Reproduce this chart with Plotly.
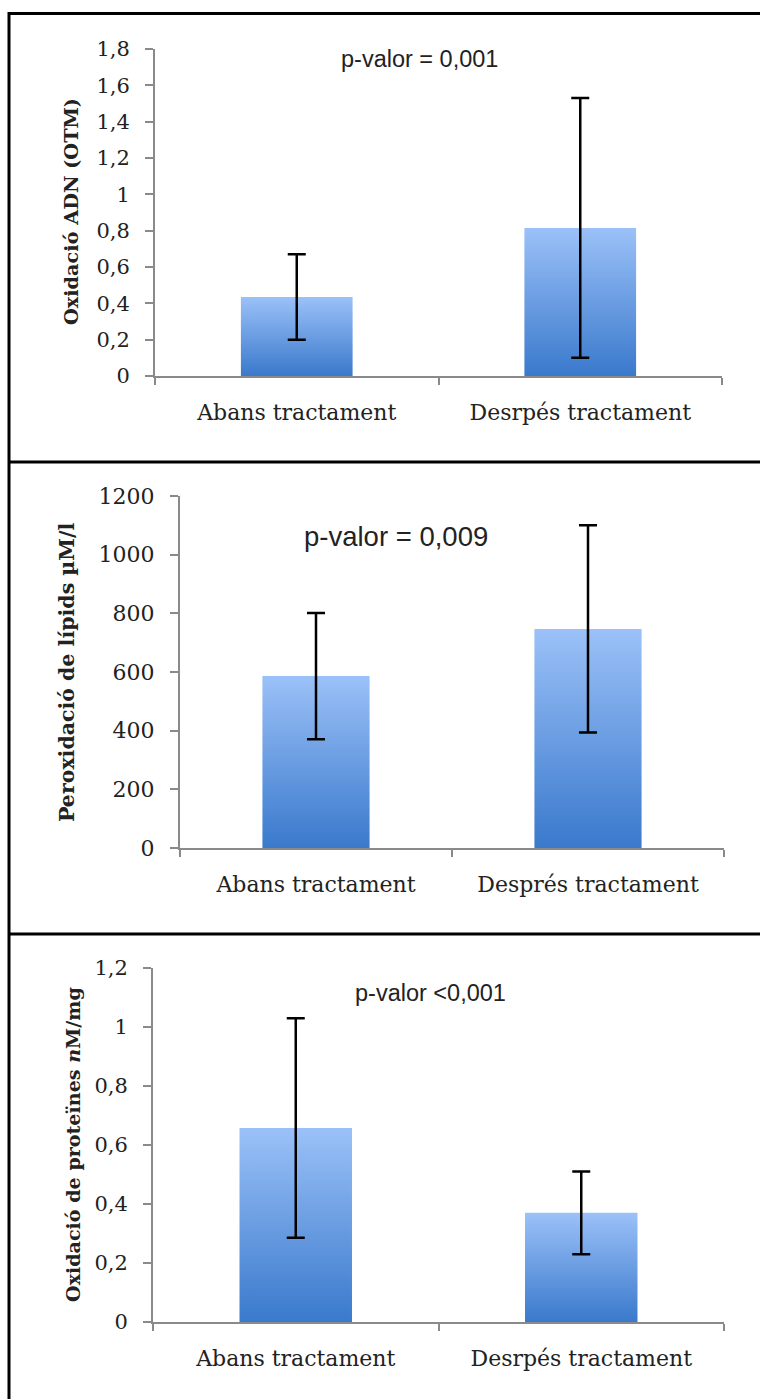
import plotly.graph_objects as go

W, H = 760, 1399

# ---- data -------------------------------------------------------------
cats_adn = ["Abans tractament", "Desrpés tractament"]
cats_lip = ["Abans tractament", "Després tractament"]
cats_prot = ["Abans tractament", "Desrpés tractament"]

adn_mean = [0.435, 0.815]
adn_err = [0.235, 0.715]

lip_mean = [586, 747]
lip_err = [215, 353]

prot_mean = [0.658, 0.37]
prot_err = [0.372, 0.14]

adn_ticks = [0, 0.2, 0.4, 0.6, 0.8, 1.0, 1.2, 1.4, 1.6, 1.8]
adn_ticktext = ["0", "0,2", "0,4", "0,6", "0,8", "1", "1,2", "1,4", "1,6", "1,8"]
lip_ticks = [0, 200, 400, 600, 800, 1000, 1200]
lip_ticktext = ["0", "200", "400", "600", "800", "1000", "1200"]
prot_ticks = [0, 0.2, 0.4, 0.6, 0.8, 1.0, 1.2]
prot_ticktext = ["0", "0,2", "0,4", "0,6", "0,8", "1", "1,2"]

p_texts = ["p-valor = 0,001", "p-valor = 0,009", "p-valor <0,001"]
y_titles = ["Oxidació ADN (OTM)", "Peroxidació de lípids µM/l",
            "Oxidació de proteïnes <i>n</i>M/mg"]

# ---- layout geometry (pixels) -------------------------------------------
panels = [
    dict(cats=cats_adn, mean=adn_mean, err=adn_err, ticks=adn_ticks, ticktext=adn_ticktext,
         ymax=1.8, x0=155, x1=722, ytop=49, ybot=376, p=p_texts[0], px=419, py=59,
         psize=23.5, title=y_titles[0], tx=71, ty=212, tsize=19.3, tfs=21, cfs=22),
    dict(cats=cats_lip, mean=lip_mean, err=lip_err, ticks=lip_ticks, ticktext=lip_ticktext,
         ymax=1200, x0=180, x1=724, ytop=496, ybot=848, p=p_texts[1], px=396, py=536,
         psize=27.5, title=y_titles[1], tx=67, ty=673, tsize=20.5, tfs=22, cfs=22),
    dict(cats=cats_prot, mean=prot_mean, err=prot_err, ticks=prot_ticks, ticktext=prot_ticktext,
         ymax=1.2, x0=153, x1=724, ytop=968, ybot=1322, p=p_texts[2], px=430, py=993,
         psize=23.5, title=y_titles[2], tx=73, ty=1145, tsize=19.1, tfs=21, cfs=22),
]

AXIS_GREY = "#8a8a8a"
TEXT = "#222222"
SERIF = "DejaVu Serif"
BAR_DARK = "#3a79cc"
BAR_LIGHT = "#9bc1f8"
HALF_W = 0.197


def px_x(v):
    return v / W


def px_y(v):
    return 1 - v / H


fig = go.Figure()
layout = dict(
    width=W, height=H,
    margin=dict(l=0, r=0, t=0, b=0, pad=0, autoexpand=False),
    paper_bgcolor="white", plot_bgcolor="white", showlegend=False,
)
annotations = []

for i, p in enumerate(panels, start=1):
    sfx = "" if i == 1 else str(i)
    xref, yref = "x" + sfx, "y" + sfx
    centers = [0.5, 1.5]

    # gradient-filled bars, one polygon per category
    for c, v in zip(centers, p["mean"]):
        fig.add_trace(go.Scatter(
            x=[c - HALF_W, c + HALF_W, c + HALF_W, c - HALF_W, c - HALF_W],
            y=[0, 0, v, v, 0],
            mode="lines", fill="toself", line=dict(width=0),
            fillgradient=dict(type="vertical", start=0, stop=v,
                              colorscale=[[0, BAR_DARK], [1, BAR_LIGHT]]),
            xaxis=xref, yaxis=yref, hoverinfo="skip",
        ))

    # error bars
    fig.add_trace(go.Scatter(
        x=centers, y=p["mean"], mode="markers",
        marker=dict(size=1, color="rgba(0,0,0,0)"),
        error_y=dict(type="data", array=p["err"], visible=True,
                     color="black", thickness=2.5, width=9),
        xaxis=xref, yaxis=yref,
    ))

    layout["xaxis" + sfx] = dict(
        domain=[px_x(p["x0"]), px_x(p["x1"])], range=[0, 2],
        anchor=yref, tickmode="array", tickvals=centers, ticktext=p["cats"],
        ticks="", showline=True, linecolor=AXIS_GREY, linewidth=2,
        showgrid=False, zeroline=False, fixedrange=True,
        tickfont=dict(family=SERIF, size=p["cfs"], color=TEXT),
        ticklabelstandoff=16,
        minor=dict(tickmode="array", tickvals=[0, 1, 2], ticks="outside",
                   ticklen=7, tickwidth=2, tickcolor=AXIS_GREY, showgrid=False),
    )
    layout["yaxis" + sfx] = dict(
        domain=[px_y(p["ybot"]), px_y(p["ytop"])], range=[0, p["ymax"]],
        anchor=xref, tickmode="array", tickvals=p["ticks"], ticktext=p["ticktext"],
        ticks="outside", ticklen=8, tickwidth=2, tickcolor=AXIS_GREY,
        showline=True, linecolor=AXIS_GREY, linewidth=2,
        showgrid=False, zeroline=False, fixedrange=True,
        tickfont=dict(family=SERIF, size=p["tfs"], color=TEXT),
        ticklabelstandoff=11,
    )

    annotations.append(dict(
        text=p["p"], x=px_x(p["px"]), y=px_y(p["py"]), xref="paper", yref="paper",
        xanchor="center", yanchor="middle", showarrow=False,
        font=dict(family="Liberation Sans, Arial", size=p["psize"], color=TEXT),
    ))
    annotations.append(dict(
        text=p["title"], x=px_x(p["tx"]), y=px_y(p["ty"]), xref="paper", yref="paper",
        xanchor="center", yanchor="middle", showarrow=False, textangle=-90,
        font=dict(family=SERIF, size=p["tsize"], color=TEXT, weight="bold"),
    ))

# outer frame and panel separators
shapes = [
    dict(type="rect", xref="paper", yref="paper",
         x0=px_x(9), x1=px_x(766), y0=px_y(1406), y1=px_y(13.5),
         line=dict(color="black", width=3), fillcolor="rgba(0,0,0,0)"),
]
for sep in (462, 934):
    shapes.append(dict(type="line", xref="paper", yref="paper",
                       x0=px_x(9), x1=px_x(766), y0=px_y(sep), y1=px_y(sep),
                       line=dict(color="black", width=3)))

layout["annotations"] = annotations
layout["shapes"] = shapes
fig.update_layout(**layout)

fig.write_html("out.html")
